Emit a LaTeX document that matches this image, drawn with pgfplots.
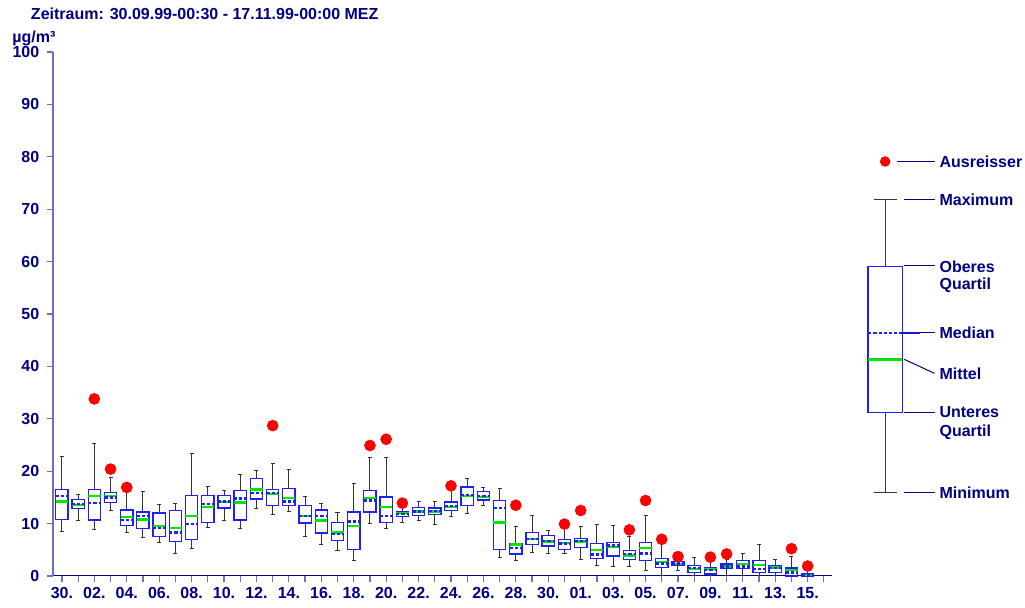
\documentclass[border=0pt]{standalone}
\usepackage{fontspec}
\setmainfont{Liberation Sans}
\usepackage{pgfplots}
\usepackage{pgfplotstable}
\pgfplotsset{compat=1.18}
\usepgfplotslibrary{statistics}

\definecolor{navy}{RGB}{0,0,128}
\definecolor{slate}{RGB}{112,112,184}
\definecolor{boxblue}{RGB}{30,30,255}
\definecolor{mgreen}{RGB}{0,230,0}

% daily box plots: lower whisker, quartiles, median, upper whisker, mean
\pgfplotstableread{
pos lw   lq   med  uq   uw   avg
0   8.5  10.8 15.3 16.5 22.8 14.2
1   10.6 12.9 13.7 14.6 15.6 13.5
2   8.8  10.7 13.9 16.5 25.2 15.3
3   12.5 14.0 15.0 15.9 18.7 15.3
4   8.3  9.7  10.7 12.6 16.7 11.3
5   7.4  9.1  11.5 12.2 16.1 10.8
6   6.4  7.6  9.2  12.0 13.7 9.6
7   4.3  6.6  8.3  12.5 13.9 9.2
8   5.3  7.0  9.9  15.3 23.4 11.5
9   9.2  10.2 13.7 15.3 17.0 13.2
10  10.6 13.0 14.2 15.3 16.3 14.1
11  9.0  10.7 14.8 16.3 19.4 14.0
12  12.9 14.7 15.8 18.6 20.2 16.5
13  11.8 13.4 15.8 16.5 21.4 15.6
14  12.4 13.5 14.2 16.7 20.4 14.9
15  7.5  10.1 11.5 13.4 15.1 11.4
16  6.1  8.2  11.5 12.6 13.9 10.6
17  4.9  6.8  8.0  10.2 12.1 8.3
18  2.9  5.1  10.4 12.2 17.6 9.5
19  10.1 12.2 14.4 16.3 22.6 14.9
20  9.0  10.2 11.5 15.1 22.6 13.2
21  10.2 11.4 11.8 12.3 13.4 12.0
22  10.5 11.6 12.3 13.1 14.2 12.3
23  9.9  11.8 12.4 13.0 14.2 12.3
24  11.3 12.5 13.3 14.1 16.7 13.2
25  12.0 13.5 15.5 17.0 18.6 15.3
26  13.5 14.5 15.3 16.1 16.8 15.1
27  3.5  5.1  13.0 14.4 16.7 10.2
28  3.0  4.2  5.3  6.2  9.4  6.0
29  4.4  6.0  7.1  8.3  11.6 7.1
30  4.2  5.7  6.7  7.7  8.7  6.6
31  4.3  5.1  6.2  6.9  9.5  6.3
32  3.2  5.4  6.7  7.1  9.5  6.6
33  2.0  3.4  4.1  6.2  9.9  5.0
34  1.9  3.8  5.8  6.4  9.7  5.5
35  1.9  3.1  4.2  4.9  7.6  3.9
36  1.0  3.0  4.3  6.4  11.5 5.4
37  0.1  1.6  2.4  3.4  6.2  2.7
38  1.0  2.0  2.4  2.7  3.7  2.3
39  0.0  0.7  1.5  2.0  3.5  1.4
40  0.0  0.4  1.1  1.6  3.4  1.3
41  0.0  1.4  1.8  2.3  3.2  1.8
42  0.0  1.4  1.8  2.9  4.3  2.3
43  0.0  0.6  1.3  2.9  6.1  2.1
44  0.0  0.7  1.5  2.0  3.1  1.6
45  0.0  0.0  0.7  1.5  3.8  1.1
46  0.0  0.0  0.1  0.5  1.4  0.2
}\boxdata

\begin{document}
\begin{tikzpicture}[font=\fontsize{8}{9.6}\selectfont\bfseries]
\useasboundingbox (0,0) rectangle (512.5pt,304pt);
\begin{axis}[
  at={(26.5pt,16pt)}, anchor=south west,
  scale only axis, width=389.5pt, height=262pt,
  xmin=-0.55, xmax=47.5, ymin=0, ymax=100,
  clip=false,
  axis x line=bottom, axis y line=left,
  x axis line style={-, draw=navy, line width=0.5pt},
  y axis line style={-, draw=slate, line width=0.7pt},
  tick align=outside, major tick length=3.2pt,
  tick style={draw=slate, line width=0.6pt},
  xtick={0,...,47},
  xticklabels={30.,,02.,,04.,,06.,,08.,,10.,,12.,,14.,,16.,,18.,,20.,,22.,,24.,,26.,,28.,,30.,,01.,,03.,,05.,,07.,,09.,,11.,,13.,,15.,},
  ytick={0,10,...,100},
  ticklabel style={font=\fontsize{8}{9.6}\selectfont\bfseries, text=navy},
  /pgf/number format/assume math mode=true,
  yticklabel style={anchor=east, inner sep=0pt, xshift=-3.5pt},
  xticklabel style={anchor=north, inner sep=0pt, yshift=-2.5pt},
  boxplot/draw direction=y,
  boxplot/box extend=0.76,
  boxplot/whisker extend=0.25,
  boxplot/every box/.style={draw=boxblue, fill=white, line width=0.65pt},
  boxplot/every whisker/.style={draw=black!80, line width=0.5pt},
  boxplot/every median/.style={draw=boxblue, line width=1.2pt, dash pattern=on 1.6pt off 1pt},
  boxplot/draw/median/.code={%
    \draw[draw=mgreen, line width=1.15pt]
      (boxplot box cs:\pgfplotsboxplotvalue{average},0) --
      (boxplot box cs:\pgfplotsboxplotvalue{average},1);
    \draw[/pgfplots/boxplot/every median/.try]
      (boxplot box cs:\pgfplotsboxplotvalue{median},0) --
      (boxplot box cs:\pgfplotsboxplotvalue{median},1);
  },
  boxplot/draw/average/.code={},
]

\pgfplotsinvokeforeach{0,...,46}{
  \pgfplotstablegetelem{#1}{lw}\of\boxdata\let\bLW\pgfplotsretval
  \pgfplotstablegetelem{#1}{lq}\of\boxdata\let\bLQ\pgfplotsretval
  \pgfplotstablegetelem{#1}{med}\of\boxdata\let\bMD\pgfplotsretval
  \pgfplotstablegetelem{#1}{uq}\of\boxdata\let\bUQ\pgfplotsretval
  \pgfplotstablegetelem{#1}{uw}\of\boxdata\let\bUW\pgfplotsretval
  \pgfplotstablegetelem{#1}{avg}\of\boxdata\let\bAV\pgfplotsretval
  \edef\doplot{\noexpand\addplot[boxplot prepared={draw position=#1,
    lower whisker=\bLW, lower quartile=\bLQ, median=\bMD,
    upper quartile=\bUQ, upper whisker=\bUW, average=\bAV}] coordinates {};}
  \doplot
}

% outliers
\addplot[only marks, mark=*, color=red, mark size=2.7pt] coordinates {
  (2,33.8) (3,20.4) (4,16.9) (13,28.7) (19,24.9) (20,26.1) (21,13.9)
  (24,17.2) (28,13.5) (31,9.9) (32,12.5) (35,8.8) (36,14.4) (37,7.0)
  (38,3.7) (40,3.6) (41,4.2) (45,5.2) (46,1.9)
};

% legend box
\addplot[boxplot prepared={draw position=50.78, lower whisker=15.9,
  lower quartile=31.2, median=46.4, upper quartile=59.1,
  upper whisker=71.8, average=41.3, box extend=2.1, whisker extend=1.42}]
  coordinates {};
\addplot[only marks, mark=*, color=red, mark size=2.4pt] coordinates {(50.78,79.1)};

\draw[navy, line width=0.5pt] (axis cs:51.52,79.07) -- (axis cs:53.86,79.07);
\draw[navy, line width=0.5pt] (axis cs:51.95,71.76) -- (axis cs:53.86,71.76);
\draw[navy, line width=0.5pt] (axis cs:51.95,59.16) -- (axis cs:53.86,59.16);
\draw[boxblue!70!navy, line width=1.2pt] (axis cs:51.82,46.4) -- (axis cs:52.94,46.4);
\draw[navy, line width=0.5pt] (axis cs:52.94,46.4) -- (axis cs:53.86,46.4);
\draw[navy, line width=0.5pt] (axis cs:51.95,41.35) -- (axis cs:53.82,38.68);
\draw[navy, line width=0.5pt] (axis cs:51.95,31.16) -- (axis cs:53.86,31.16);
\draw[navy, line width=0.5pt] (axis cs:51.95,15.9) -- (axis cs:53.86,15.9);

\begin{scope}[every node/.style={anchor=west, inner sep=0pt, text=navy}]
\node at (axis cs:54.11,79.07) {Ausreisser};
\node at (axis cs:54.11,71.76) {Maximum};
\node at (axis cs:54.11,58.97) {Oberes};
\node at (axis cs:54.11,55.53) {Quartil};
\node at (axis cs:54.11,46.43) {Median};
\node at (axis cs:54.11,38.68) {Mittel};
\node at (axis cs:54.11,31.3) {Unteres};
\node at (axis cs:54.11,27.5) {Quartil};
\node at (axis cs:54.11,15.9) {Minimum};
\end{scope}
\end{axis}

\node[anchor=base west, inner sep=0pt, text=navy] at (15.3pt,294pt)
  {Zeitraum: 30.09.99-00:30 - 17.11.99-00:00 MEZ};
\node[anchor=base west, inner sep=0pt, text=navy] at (6pt,282.6pt) {µg/m³};
\end{tikzpicture}
\end{document}
